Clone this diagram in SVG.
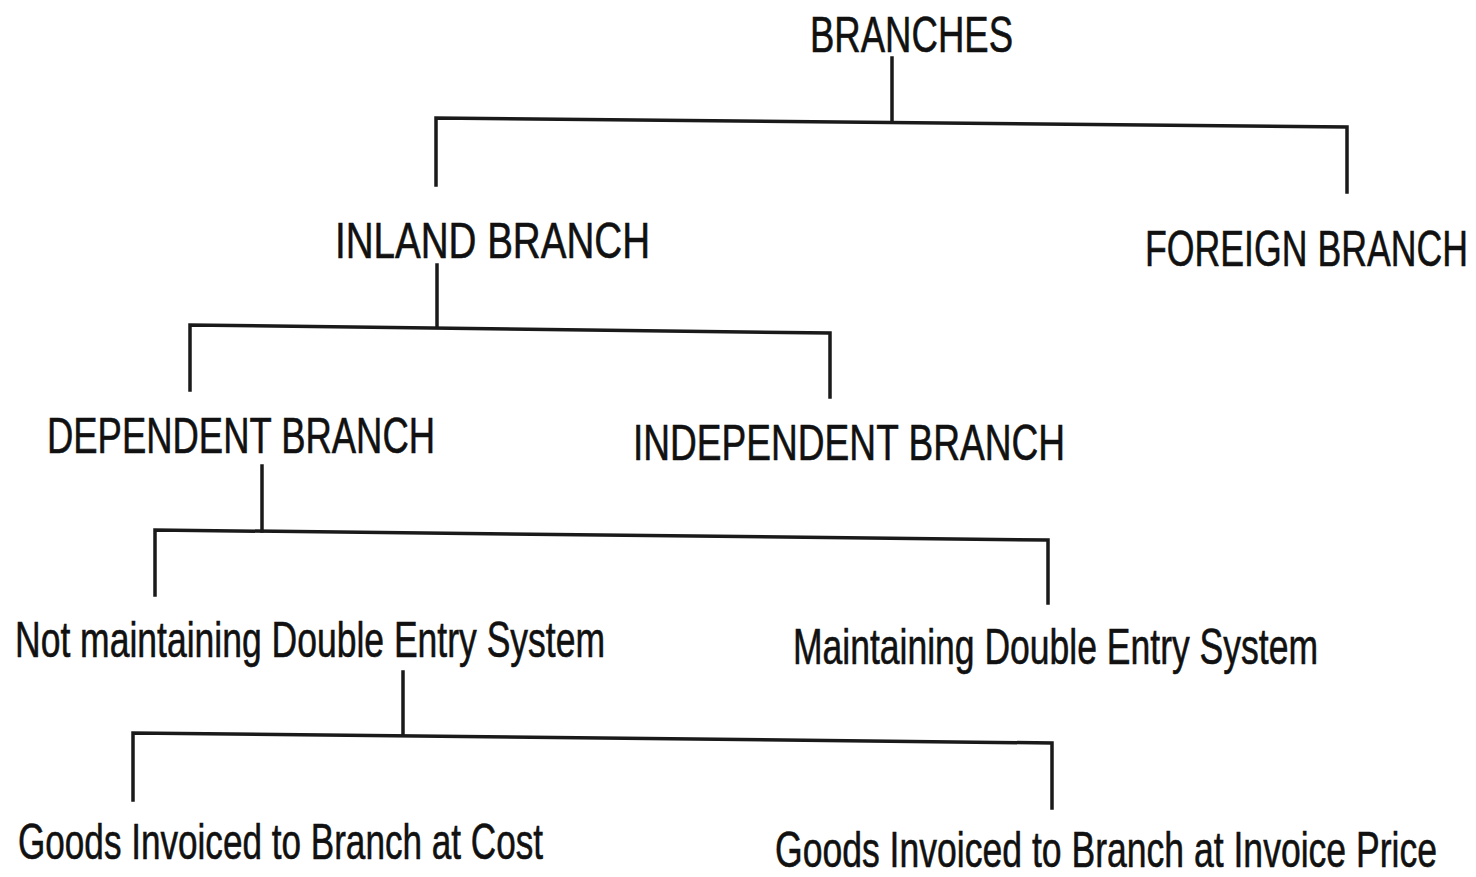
<svg xmlns="http://www.w3.org/2000/svg" width="1476" height="877" viewBox="0 0 1476 877">
<style>
text{font-family:"Liberation Sans",Arial,sans-serif;font-size:50px;fill:#111;stroke:#111;stroke-width:0.6}
.c{fill:none;stroke:#1a1a1a;stroke-width:3.5;stroke-linecap:square}
</style>
<rect width="1476" height="877" fill="#fff"/>
<g id="connectors">
<path class="c" d="M892 58V122"/>
<path class="c" d="M436 185V118L1347 127V192"/>
<path class="c" d="M437 265V327"/>
<path class="c" d="M190 390V325L830 333V397"/>
<path class="c" d="M262 466V531"/>
<path class="c" d="M155 595V530L1048 540V603"/>
<path class="c" d="M403 672V735"/>
<path class="c" d="M133 800V733L1052 743V808"/>
</g>
<g id="branches"><text x="810" y="52" textLength="203" lengthAdjust="spacingAndGlyphs">BRANCHES</text></g>
<g id="inland"><text x="335" y="258" textLength="315" lengthAdjust="spacingAndGlyphs">INLAND BRANCH</text></g>
<g id="foreign"><text x="1145" y="266" textLength="323" lengthAdjust="spacingAndGlyphs">FOREIGN BRANCH</text></g>
<g id="dependent"><text x="47" y="453" textLength="388" lengthAdjust="spacingAndGlyphs">DEPENDENT BRANCH</text></g>
<g id="independent"><text x="633" y="460" textLength="432" lengthAdjust="spacingAndGlyphs">INDEPENDENT BRANCH</text></g>
<g id="not-maintaining"><text x="15" y="657" textLength="590" lengthAdjust="spacingAndGlyphs">Not maintaining Double Entry System</text></g>
<g id="maintaining"><text x="793" y="664" textLength="525" lengthAdjust="spacingAndGlyphs">Maintaining Double Entry System</text></g>
<g id="cost"><text x="18" y="859" textLength="525" lengthAdjust="spacingAndGlyphs">Goods Invoiced to Branch at Cost</text></g>
<g id="invoice-price"><text x="775" y="867" textLength="662" lengthAdjust="spacingAndGlyphs">Goods Invoiced to Branch at Invoice Price</text></g>
</svg>
